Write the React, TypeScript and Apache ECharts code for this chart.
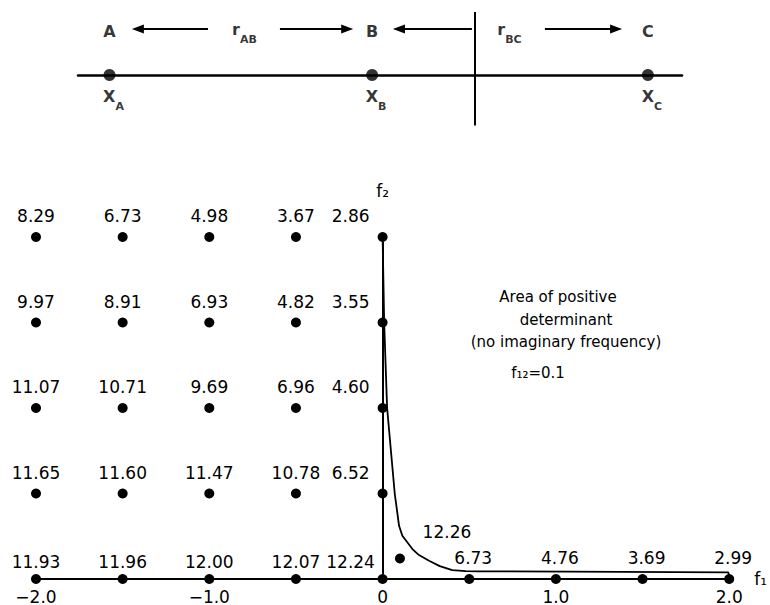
import React, { useEffect, useRef } from 'react';
import * as echarts from 'echarts';

// ---- top schematic (A - B - C) ----
const atomNames = ['A', 'B', 'C'];
const atomPositions = [0, 1, 2.05];
const dividerPosition = 1.39;
const distanceNames = ['AB', 'BC'];
const distanceLabelX = [0.514, 1.523];
const arrowTails = [0.375, 0.649, 1.38, 1.658];
const arrowHeads = [0.108, 0.905, 1.102, 1.929];

// ---- frequency map ----
const f1Columns = [-2, -1.5, -1, -0.5, 0];
const f2Rows = [2, 1.5, 1, 0.5, 0];
const frequencyGrid = [
  ['8.29', '6.73', '4.98', '3.67', '2.86'],
  ['9.97', '8.91', '6.93', '4.82', '3.55'],
  ['11.07', '10.71', '9.69', '6.96', '4.60'],
  ['11.65', '11.60', '11.47', '10.78', '6.52'],
  ['11.93', '11.96', '12.00', '12.07', '12.24'],
];
const f1Positive = [0.5, 1.0, 1.5, 2.0];
const frequencyPositive = ['6.73', '4.76', '3.69', '2.99'];
const extraPoint = [0.1, 0.12];
const extraFrequency = '12.26';

const boundaryF1 = [0, 0.009, 0.026, 0.07, 0.095, 0.114, 0.172, 0.21, 0.268, 0.33, 0.402, 0.48, 0.555, 1.07, 1.994, 2.0];
const boundaryF2 = [2.0, 1.5, 1.0, 0.5, 0.311, 0.253, 0.175, 0.14, 0.107, 0.075, 0.052, 0.046, 0.045, 0.043, 0.039, 0.02];

const FONT = 'DejaVu Sans';
const BLACK = '#000';

function buildPoints() {
  const pts: any[] = [];
  f2Rows.forEach((f2, r) => {
    f1Columns.forEach((f1, c) => {
      const dx = f1 === 0 ? -32 : 0;
      const dy = f2 === 0 ? -17 : -21;
      pts.push({ name: frequencyGrid[r][c], value: [f1, f2], label: { offset: [dx, dy] } });
    });
  });
  f1Positive.forEach((f1, i) => {
    pts.push({ name: frequencyPositive[i], value: [f1, 0], label: { offset: [4, -21] } });
  });
  pts.push({ name: extraFrequency, value: extraPoint, label: { offset: [47, -26] } });
  return pts;
}

function buildOption(): any {
  const subRich = {
    b: { fontSize: 16, lineHeight: 18, verticalAlign: 'top', color: BLACK, fontFamily: FONT, fontWeight: 'bold' },
    s: { fontSize: 11, lineHeight: 36, verticalAlign: 'middle', color: BLACK, fontFamily: FONT, fontWeight: 'bold' },
  };
  const arrowY = 0.73;
  return {
    animation: false,
    backgroundColor: '#fff',
    textStyle: { fontFamily: FONT, color: BLACK },
    grid: [
      { left: 36, top: 237, width: 695, height: 343 },
      { left: 78, top: 12, width: 604, height: 126 },
    ],
    xAxis: [
      {
        gridIndex: 0,
        type: 'value',
        min: -2,
        max: 2,
        interval: 1,
        axisLine: { show: true, onZero: true, lineStyle: { color: BLACK, width: 2 } },
        axisTick: { show: false },
        splitLine: { show: false },
        axisLabel: {
          color: BLACK,
          fontSize: 17,
          fontFamily: FONT,
          margin: 9,
          formatter: (v: number) => (v === 0 ? '0' : (v < 0 ? '\u2212' : '') + Math.abs(v).toFixed(1)),
        },
        name: 'f\u2081',
        nameLocation: 'end',
        nameGap: 25,
        nameTextStyle: { color: BLACK, fontSize: 17, fontFamily: FONT },
      },
      {
        gridIndex: 1,
        type: 'value',
        min: -0.12,
        max: 2.18,
        axisLine: { show: true, onZero: true, lineStyle: { color: BLACK, width: 2.5 } },
        axisTick: { show: false },
        axisLabel: { show: false },
        splitLine: { show: false },
      },
    ],
    yAxis: [
      {
        gridIndex: 0,
        type: 'value',
        min: 0,
        max: 2,
        interval: 0.5,
        axisLine: { show: true, onZero: true, lineStyle: { color: BLACK, width: 2 } },
        axisTick: { show: false },
        axisLabel: { show: false },
        splitLine: { show: false },
        name: 'f\u2082',
        nameLocation: 'end',
        nameGap: 38,
        nameTextStyle: { color: BLACK, fontSize: 17, fontFamily: FONT, align: 'center' },
      },
      {
        gridIndex: 1,
        type: 'value',
        min: -1,
        max: 1,
        show: false,
      },
    ],
    series: [
      {
        type: 'line',
        xAxisIndex: 0,
        yAxisIndex: 0,
        data: boundaryF1.map((x, i) => [x, boundaryF2[i]]),
        showSymbol: false,
        symbol: 'none',
        lineStyle: { color: BLACK, width: 1.8 },
        clip: false,
        z: 2,
        silent: true,
      },
      {
        type: 'scatter',
        xAxisIndex: 0,
        yAxisIndex: 0,
        data: buildPoints(),
        symbol: 'circle',
        symbolSize: 10,
        itemStyle: { color: BLACK, opacity: 1 },
        label: {
          show: true,
          position: 'inside',
          formatter: '{b}',
          color: BLACK,
          fontSize: 17,
          fontFamily: FONT,
        },
        z: 3,
        silent: true,
      },
      {
        type: 'scatter',
        xAxisIndex: 1,
        yAxisIndex: 1,
        data: atomNames.map((n, i) => ({ name: n, value: [atomPositions[i], 0] })),
        symbol: 'circle',
        symbolSize: 12,
        itemStyle: { color: BLACK },
        label: {
          show: true,
          position: 'inside',
          offset: [0, -44],
          formatter: '{b}',
          color: BLACK,
          fontSize: 16,
          fontFamily: FONT,
          fontWeight: 'bold',
        },
        silent: true,
        markLine: {
          silent: true,
          animation: false,
          label: { show: false },
          lineStyle: { color: BLACK, width: 2, type: 'solid' },
          symbolSize: [9, 12],
          data: [
            [
              { coord: [dividerPosition, 1], symbol: 'none' },
              { coord: [dividerPosition, -0.8], symbol: 'none' },
            ],
            ...arrowTails.map((t, i) => [
              { coord: [t, arrowY], symbol: 'none' },
              { coord: [arrowHeads[i], arrowY], symbol: 'triangle' },
            ]),
          ],
        },
      },
      {
        type: 'scatter',
        xAxisIndex: 1,
        yAxisIndex: 1,
        data: atomNames.map((n, i) => ({ name: n, value: [atomPositions[i], 0] })),
        symbolSize: 2,
        itemStyle: { color: 'transparent' },
        label: {
          show: true,
          position: 'inside',
          offset: [4, 31],
          formatter: (p: any) => `{b|X}{s|${p.name}}`,
          rich: subRich,
        },
        silent: true,
      },
      {
        type: 'scatter',
        xAxisIndex: 1,
        yAxisIndex: 1,
        data: distanceNames.map((n, i) => ({ name: n, value: [distanceLabelX[i], 0.556] })),
        symbolSize: 2,
        itemStyle: { color: 'transparent' },
        label: {
          show: true,
          position: 'inside',
          formatter: (p: any) => `{b|r}{s|${p.name}}`,
          rich: subRich,
        },
        silent: true,
      },
    ],
    graphic: [
      { type: 'text', x: 558, y: 297, style: { text: 'Area of positive', fontSize: 15, fontFamily: FONT, fill: BLACK, align: 'center', verticalAlign: 'middle' } },
      { type: 'text', x: 566, y: 320, style: { text: 'determinant', fontSize: 15, fontFamily: FONT, fill: BLACK, align: 'center', verticalAlign: 'middle' } },
      { type: 'text', x: 566, y: 342, style: { text: '(no imaginary frequency)', fontSize: 15, fontFamily: FONT, fill: BLACK, align: 'center', verticalAlign: 'middle' } },
      { type: 'text', x: 538, y: 373, style: { text: 'f\u2081\u2082=0.1', fontSize: 15, fontFamily: FONT, fill: BLACK, align: 'center', verticalAlign: 'middle' } },
    ],
  };
}

export default function App() {
  const ref = useRef<HTMLDivElement>(null);
  useEffect(() => {
    const chart = echarts.init(ref.current!, null, { renderer: 'svg' });
    chart.setOption(buildOption());
    return () => chart.dispose();
  }, []);
  return (
    <div
      ref={ref}
      style={{ position: 'fixed', left: 0, top: 0, width: 770, height: 605, background: '#fff' }}
    />
  );
}
